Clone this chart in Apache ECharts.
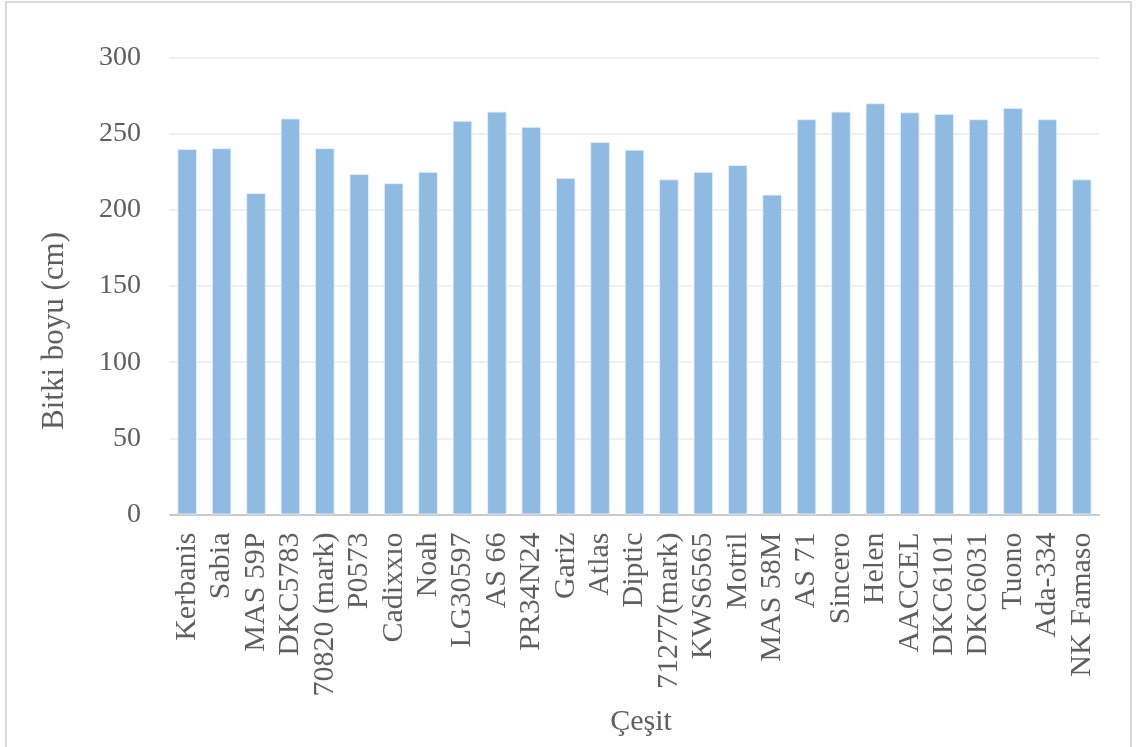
<!DOCTYPE html>
<html>
<head>
<meta charset="utf-8">
<script src="https://cdn.jsdelivr.net/npm/echarts@6/dist/echarts.min.js"></script>
<style>
html,body{margin:0;padding:0;background:#fff;}
#chart{width:1138px;height:747px;}
</style>
</head>
<body>
<div id="chart"></div>
<script>
const categories = ["Kerbanis","Sabia","MAS 59P","DKC5783","70820 (mark)","P0573","Cadixxıo","Noah","LG30597","AS 66","PR34N24","Gariz","Atlas","Diptic","71277(mark)","KWS6565","Motril","MAS 58M","AS 71","Sincero","Helen","AACCEL","DKC6101","DKC6031","Tuono","Ada-334","NK Famaso"];
const heights = [240, 240.5, 211, 260, 240.5, 223.5, 217.5, 225, 258.5, 264.5, 254.5, 221, 244.5, 239.5, 220, 225, 229.5, 210, 259.5, 264.5, 270, 264, 263, 259.5, 267, 259.5, 220];
const yTicks = [0, 50, 100, 150, 200, 250, 300];
const yTitle = "Bitki boyu (cm)";
const xTitle = "Çeşit";

const FONT = "'Liberation Serif','Times New Roman',serif";
const chart = echarts.init(document.getElementById('chart'), null, {renderer:'canvas'});
chart.setOption({
  animation:false,
  backgroundColor:'#fff',
  grid:{left:170, right:39, top:57.5, bottom:232.5, containLabel:false},
  xAxis:{
    type:'category',
    data:categories,
    axisLine:{lineStyle:{color:'#c9c9c9', width:2}},
    axisTick:{show:false},
    axisLabel:{rotate:90, margin:18, fontFamily:FONT, fontSize:30, color:'#5f5f5f', interval:0}
  },
  yAxis:{
    type:'value',
    min:yTicks[0], max:yTicks[yTicks.length-1], interval:50,
    axisLine:{show:false},
    axisTick:{show:false},
    splitLine:{lineStyle:{color:'#f0f0f0', width:2}},
    axisLabel:{margin:29, fontFamily:FONT, fontSize:28, color:'#5f5f5f'}
  },
  series:[{
    type:'bar',
    data:heights,
    barCategoryGap:'43%',
    itemStyle:{color:'#8FBAE1', borderColor:'rgba(230,240,250,0.9)', borderWidth:1}
  }],
  graphic:[
    {type:'rect', shape:{x:6, y:2, width:1125, height:780}, style:{fill:'none', stroke:'#d9d9d9', lineWidth:2}, z:-1},
    {type:'text', x:55, y:331, rotation:Math.PI/2, style:{text:yTitle, font:"31px "+FONT, fill:'#5f5f5f', textAlign:'center', textVerticalAlign:'middle'}},
    {type:'text', x:641, y:722, style:{text:xTitle, font:"30px "+FONT, fill:'#5f5f5f', textAlign:'center', textVerticalAlign:'middle'}}
  ]
});
</script>
</body>
</html>
